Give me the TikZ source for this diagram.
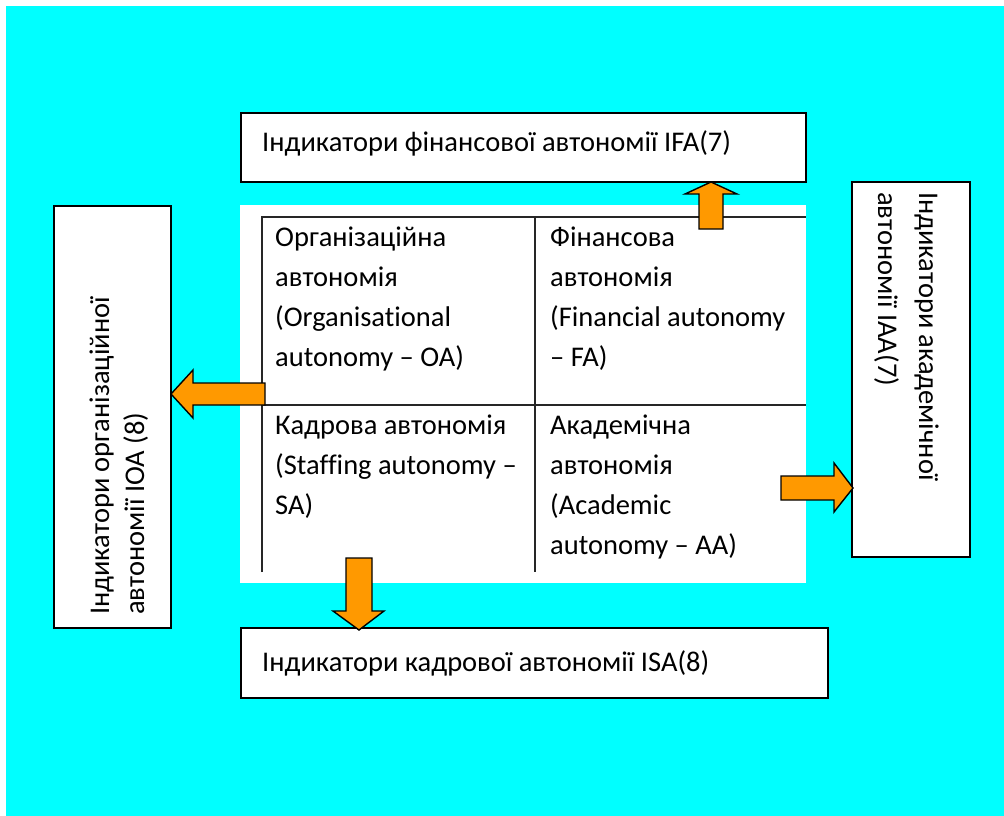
\documentclass[tikz,border=0pt]{standalone}
\usepackage{fontspec}
\setmainfont{Carlito}[Ligatures=NoCommon]
\definecolor{bgcyan}{RGB}{0,255,255}
\definecolor{arroworange}{RGB}{255,153,0}
\begin{document}
\begin{tikzpicture}[x=1pt,y=-1pt,
  box/.style={draw=black,line width=1.4pt,fill=white,rectangle,inner sep=0pt},
  txt/.style={font=\fontsize{28.5}{32}\selectfont,inner sep=0pt,anchor=base west},
  grid/.style={draw=black!85,line width=1.3pt},
  blockarrow/.style={draw=black,line width=1.4pt,fill=arroworange,line join=miter}]
\useasboundingbox (0,0) rectangle (1004,816);
\fill[white] (0,0) rectangle (1004,816);
\fill[bgcyan] (6,6) rectangle (1004,816);
% inner white panel
\fill[white] (240,205) rectangle (806,583);
% table grid
\draw[grid] (262,572) -- (262,217) -- (806,217);
\draw[grid] (535,217) -- (535,572);
\draw[grid] (262,405) -- (806,405);
% cell texts
\node[txt] (oa1) at (275,246) {Організаційна};
\node[txt] (oa2) at (275,286) {автономія};
\node[txt] (oa3) at (275,326) {(Organisational};
\node[txt] (oa4) at (275,366) {autonomy – OA)};
\node[txt] (fa1) at (550,246) {Фінансова};
\node[txt] (fa2) at (550,286) {автономія};
\node[txt] (fa3) at (550,326) {(Financial autonomy};
\node[txt] (fa4) at (550,366) {– FA)};
\node[txt] (sa1) at (275,434) {Кадрова автономія};
\node[txt] (sa2) at (275,474) {(Staffing autonomy –};
\node[txt] (sa3) at (275,514) {SA)};
\node[txt] (aa1) at (550,434) {Академічна};
\node[txt] (aa2) at (550,474) {автономія};
\node[txt] (aa3) at (550,514) {(Academic};
\node[txt] (aa4) at (550,554) {autonomy – AA)};
% outer boxes
\node[box,minimum width=565pt,minimum height=69pt] (ifa) at (523.5,147.5) {};
\node[txt] (ifat) at (262,151) {Індикатори фінансової автономії IFA(7)};
\node[box,minimum width=587pt,minimum height=70pt] (isa) at (534.5,663) {};
\node[txt] (isat) at (262,671) {Індикатори кадрової автономії ISA(8)};
\node[box,minimum width=117pt,minimum height=422pt] (ioa) at (112.5,417) {};
\node[txt,rotate=90] (ioat1) at (109,615) {Індикатори організаційної};
\node[txt,rotate=90] (ioat2) at (144,615) {автономії IOA (8)};
\node[box,minimum width=118pt,minimum height=375pt] (iaa) at (911,369.5) {};
\node[txt,rotate=-90] (iaat1) at (919,192) {Індикатори академічної};
\node[txt,rotate=-90] (iaat2) at (878,192) {автономії IAA(7)};
% block arrows
\draw[blockarrow] (265,383) -- (193,383) -- (193,370) -- (171,394) -- (193,418) -- (193,405) -- (265,405) -- cycle;
\draw[blockarrow] (699,229) -- (699,194) -- (685,194) -- (711,182) -- (737,194) -- (723,194) -- (723,229) -- cycle;
\draw[blockarrow] (781,476) -- (834,476) -- (834,463) -- (853,488) -- (834,512) -- (834,500) -- (781,500) -- cycle;
\draw[blockarrow] (346,558) -- (372,558) -- (372,611) -- (384,611) -- (359,630) -- (333,611) -- (346,611) -- cycle;
\end{tikzpicture}
\end{document}
